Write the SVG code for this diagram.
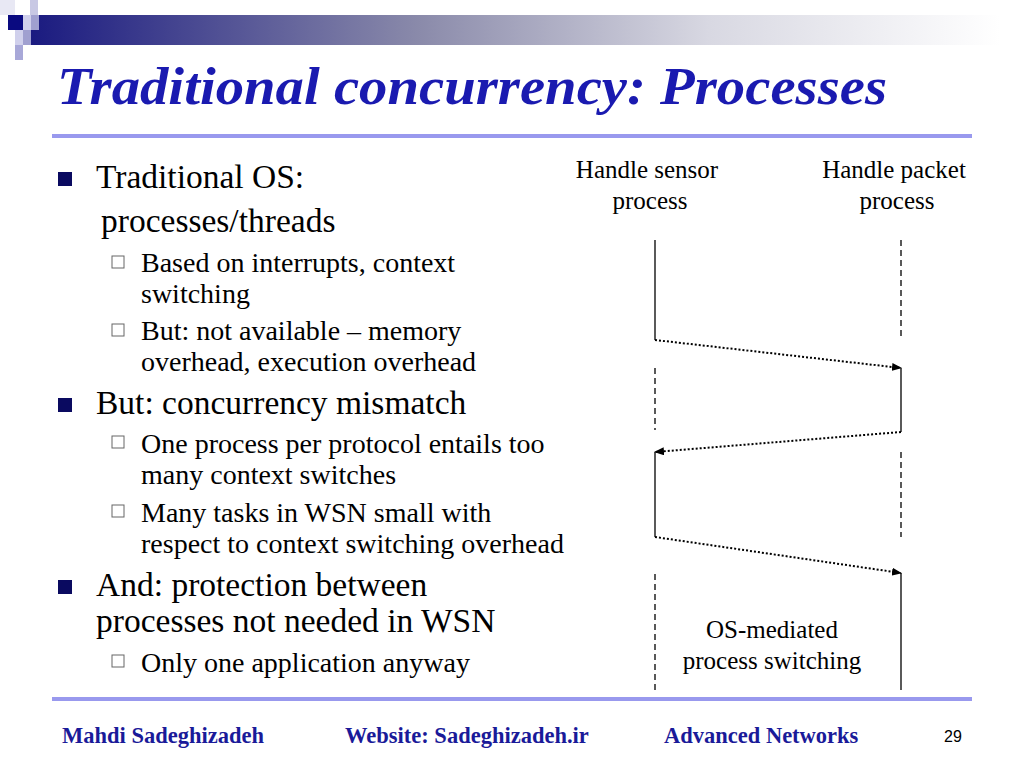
<svg xmlns="http://www.w3.org/2000/svg" width="1024" height="768" viewBox="0 0 1024 768">
<defs>
<linearGradient id="bar" x1="0" x2="1" y1="0" y2="0"><stop offset="0" stop-color="#1a1a80"/><stop offset="0.4" stop-color="#8a8aaa"/><stop offset="0.7" stop-color="#d8d8e2"/><stop offset="1" stop-color="#ffffff"/></linearGradient>
<marker id="ah" markerWidth="10" markerHeight="8" refX="9" refY="4" orient="auto" markerUnits="userSpaceOnUse"><path d="M0,0 L10,4 L0,8 Z" fill="#000"/></marker>
<style>
text{font-family:"Liberation Serif","Times New Roman",Tinos,"Nimbus Roman",serif}
.t{fill:#000}
.b{font-size:33.5px}.s{font-size:28px}.d{font-size:25px}
.f{font-weight:bold;font-size:22.5px;fill:#1a1a99}
.sol{stroke:#000;stroke-width:1.3;fill:none}
.das{stroke:#000;stroke-width:1.3;stroke-dasharray:6,4;fill:none}
.dot{stroke:#000;stroke-width:2;stroke-dasharray:2,2;fill:none}
</style>
</defs>
<rect width="1024" height="768" fill="#fff"/>
<rect x="30" y="15" width="970" height="30" fill="url(#bar)"/>
<rect x="0" y="0" width="15" height="15" fill="#e8e8f4"/>
<rect x="30" y="0" width="8" height="15" fill="#c8c8e4"/>
<rect x="8" y="15" width="15" height="15" fill="#0a0a80"/>
<rect x="23" y="15" width="8" height="15" fill="#d0d0ec"/>
<rect x="31" y="15" width="8" height="15" fill="#a0a0d0"/>
<rect x="15" y="30" width="8" height="15" fill="#d0d0ec"/>
<rect x="23" y="30" width="8" height="15" fill="#a0a0d0"/>
<rect x="15" y="45" width="8" height="15" fill="#a8a8d8"/>
<text x="57" y="104" font-size="52" font-weight="bold" font-style="italic" fill="#1a1ab0" textLength="830" lengthAdjust="spacingAndGlyphs">Traditional concurrency: Processes</text>
<rect x="52" y="134" width="920" height="4" fill="#9999ee"/>
<rect x="52" y="697" width="920" height="4" fill="#9999ee"/>
<g id="bullets">
<rect x="58" y="172" width="14" height="14" fill="#0a0a60"/>
<rect x="58" y="398" width="14" height="14" fill="#0a0a60"/>
<rect x="58" y="580" width="14" height="14" fill="#0a0a60"/>
<g fill="none" stroke="#666" stroke-width="1"><rect x="112" y="256" width="12" height="12"/><rect x="112" y="324" width="12" height="12"/><rect x="112" y="436" width="12" height="12"/><rect x="112" y="505" width="12" height="12"/><rect x="112" y="655" width="12" height="12"/></g>
<text class="t b" x="96" y="188">Traditional OS:</text>
<text class="t b" x="101" y="232">processes/threads</text>
<text class="t s" x="141" y="272">Based on interrupts, context</text>
<text class="t s" x="141" y="303">switching</text>
<text class="t s" x="141" y="340">But: not available – memory</text>
<text class="t s" x="141" y="371">overhead, execution overhead</text>
<text class="t b" x="96" y="414">But: concurrency mismatch</text>
<text class="t s" x="141" y="453">One process per protocol entails too</text>
<text class="t s" x="141" y="484">many context switches</text>
<text class="t s" x="141" y="522">Many tasks in WSN small with</text>
<text class="t s" x="141" y="553">respect to context switching overhead</text>
<text class="t b" x="96" y="596">And: protection between</text>
<text class="t b" x="96" y="632">processes not needed in WSN</text>
<text class="t s" x="141" y="672">Only one application anyway</text>
</g>
<g id="labels">
<text class="t d" x="647" y="178" text-anchor="middle">Handle sensor</text>
<text class="t d" x="650" y="209" text-anchor="middle">process</text>
<text class="t d" x="894" y="178" text-anchor="middle">Handle packet</text>
<text class="t d" x="897" y="209" text-anchor="middle">process</text>
<text class="t d" x="772" y="638" text-anchor="middle">OS-mediated</text>
<text class="t d" x="772" y="669" text-anchor="middle">process switching</text>
</g>
<g id="timelines">
<line class="sol" x1="655" y1="240" x2="655" y2="340"/>
<line class="das" x1="655" y1="368" x2="655" y2="430"/>
<line class="sol" x1="655" y1="452" x2="655" y2="537"/>
<line class="das" x1="655" y1="574" x2="655" y2="690"/>
<line class="das" x1="901" y1="240" x2="901" y2="340"/>
<line class="sol" x1="901" y1="368" x2="901" y2="432"/>
<line class="das" x1="901" y1="452" x2="901" y2="537"/>
<line class="sol" x1="901" y1="573" x2="901" y2="690"/>
</g>
<g id="connectors">
<line class="dot" x1="655" y1="340" x2="901" y2="368" marker-end="url(#ah)"/>
<line class="dot" x1="901" y1="432" x2="655" y2="452" marker-end="url(#ah)"/>
<line class="dot" x1="655" y1="537" x2="901" y2="573" marker-end="url(#ah)"/>
</g>
<g id="footer">
<text class="f" x="62" y="743">Mahdi Sadeghizadeh</text>
<text class="f" x="345" y="743">Website: Sadeghizadeh.ir</text>
<text class="f" x="664" y="743">Advanced Networks</text>
<text x="953" y="742" style="font-family:'Liberation Sans',Arial,sans-serif" font-size="16" text-anchor="middle">29</text>
</g>
</svg>
